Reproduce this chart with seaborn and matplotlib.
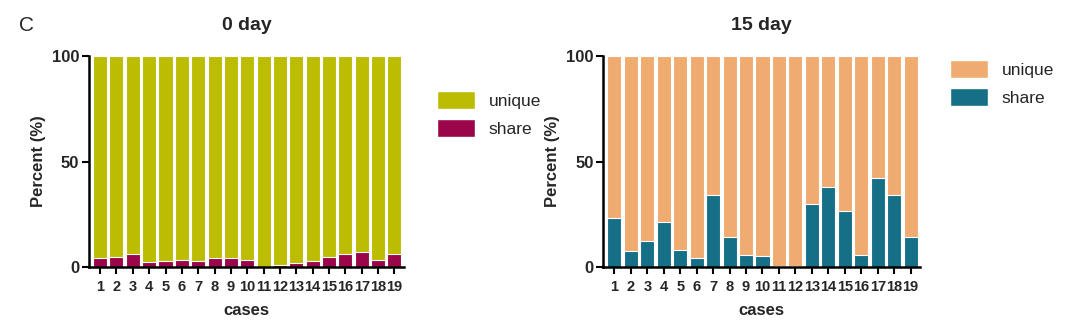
import matplotlib
matplotlib.use("Agg")
import matplotlib.pyplot as plt
import seaborn as sns
import pandas as pd
from matplotlib.patches import Patch

cases = [str(i) for i in range(1, 20)]
share_day0 = [4.1, 4.7, 6.0, 2.4, 2.8, 3.4, 3.0, 4.5, 4.5, 3.1, 0.2, 0.8, 2.0, 2.8, 4.9, 6.4, 6.9, 3.4, 6.0]
share_day15 = [23.0, 7.5, 12.1, 21.1, 7.9, 4.1, 34.3, 14.4, 5.6, 5.1, 0.3, 0.5, 29.7, 37.9, 26.5, 5.7, 42.2, 34.3, 14.4]
unique_day0 = [100 - v for v in share_day0]
unique_day15 = [100 - v for v in share_day15]
titles = ["0 day", "15 day"]
series_labels = ["unique", "share"]
colors0 = ["#bcbc02", "#9a0649"]
colors15 = ["#f0ab70", "#156f87"]

sns.set_theme(style="ticks")
plt.rcParams["font.family"] = ["Liberation Sans", "DejaVu Sans"]

fig = plt.figure(figsize=(10.8, 3.29), dpi=100)
ax1 = fig.add_axes([0.0824, 0.1884, 0.2916, 0.6414])
ax2 = fig.add_axes([0.5585, 0.1884, 0.2935, 0.6414])

def draw(ax, share, unique, colors, title, legend_xy):
    df = pd.DataFrame({"case": cases, "share": share, "unique": unique})
    df["total"] = df["share"] + df["unique"]
    sns.barplot(data=df, x="case", y="total", color=colors[0], width=0.86,
                edgecolor="white", linewidth=0.8, saturation=1, ax=ax)
    sns.barplot(data=df, x="case", y="share", color=colors[1], width=0.86,
                edgecolor="white", linewidth=0.8, saturation=1, ax=ax)
    ax.set_ylim(0, 100)
    ax.set_xlim(-0.68, 18.58)
    ax.set_yticks([0, 50, 100])
    ax.set_yticklabels(["0", "50", "100"], fontweight="bold", fontsize=12)
    for lab in ax.get_xticklabels():
        lab.set_fontweight("bold")
        lab.set_fontsize(10.5)
    ax.tick_params(axis="both", length=5, width=1.5, color="black", pad=2)
    ax.tick_params(axis="x", pad=4)
    for s in ["top", "right"]:
        ax.spines[s].set_visible(False)
    for s in ["left", "bottom"]:
        ax.spines[s].set_linewidth(1.8)
        ax.spines[s].set_color("black")
    ax.set_xlabel("cases", fontweight="bold", fontsize=12, labelpad=7)
    ax.set_ylabel("Percent (%)", fontweight="bold", fontsize=12, labelpad=4)
    ax.set_title(title, fontweight="bold", fontsize=14, pad=19)
    handles = [Patch(facecolor=colors[0], edgecolor="white", label=series_labels[0]),
               Patch(facecolor=colors[1], edgecolor="white", label=series_labels[1])]
    fig.legend(handles=handles, loc="upper left", bbox_to_anchor=legend_xy,
               frameon=False, fontsize=12.5, handlelength=2.2, handleheight=1.2,
               handletextpad=0.8, labelspacing=0.6, borderaxespad=0)

draw(ax1, share_day0, unique_day0, colors0, titles[0], (0.398, 0.745))
draw(ax2, share_day15, unique_day15, colors15, titles[1], (0.873, 0.838))

fig.text(0.018, 0.905, "C", fontsize=15)

fig.savefig("out.png", dpi=100, facecolor="white")
